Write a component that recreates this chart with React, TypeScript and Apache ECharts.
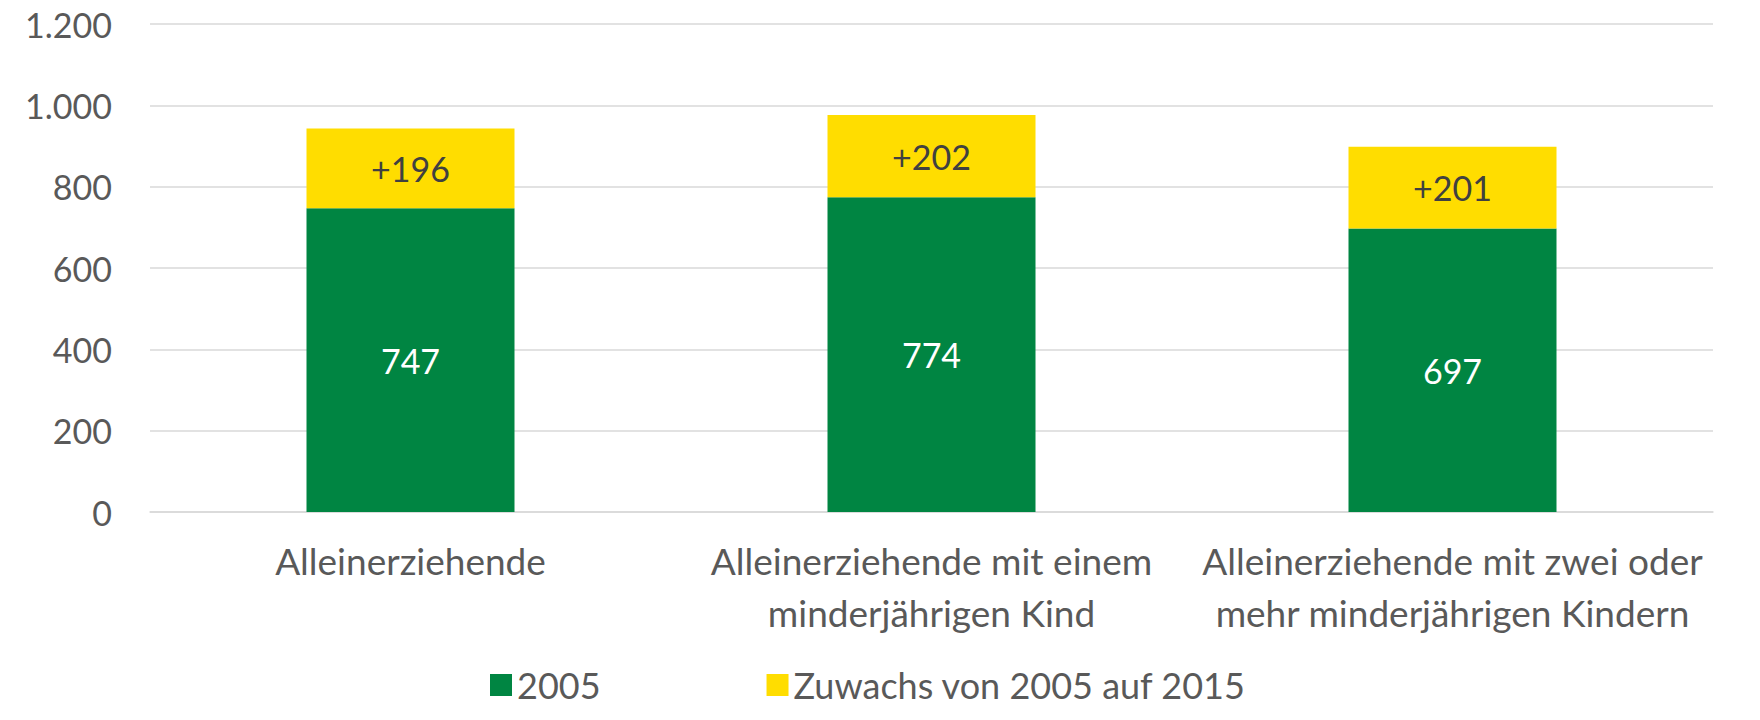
import React, { useEffect, useRef } from "react";
import * as echarts from "echarts";

const categories = [
  "Alleinerziehende",
  "Alleinerziehende mit einem\nminderjährigen Kind",
  "Alleinerziehende mit zwei oder\nmehr minderjährigen Kindern",
];
const values2005 = [747, 774, 697];
const zuwachs = [196, 202, 201];
const seriesNames = ["2005", "Zuwachs von 2005 auf 2015"];
const yTicks = { min: 0, max: 1200, interval: 200 };

const FONT = "Lato, 'Open Sans', sans-serif";
const FS_TEXT = 37;
const FS_NUM = 34;
const GREEN = "#008542";
const YELLOW = "#FFDD00";
const GREY_TEXT = "#595959";

export default function App() {
  const ref = useRef<HTMLDivElement>(null);
  useEffect(() => {
    if (!ref.current) return;
    const chart = echarts.init(ref.current, undefined, { renderer: "svg" });
    chart.setOption({
      animation: false,
      backgroundColor: "#ffffff",
      textStyle: { fontFamily: FONT },
      grid: { left: 150, right: 47, top: 24, bottom: 208, containLabel: false },
      legend: {
        top: 660,
        left: 485,
        itemWidth: 22,
        itemHeight: 22,
        itemGap: 166,
        icon: "rect",
        textStyle: {
          fontFamily: FONT,
          fontSize: 36,
          lineHeight: 40,
          color: GREY_TEXT,
        },
        data: seriesNames,
      },
      xAxis: {
        type: "category",
        data: categories,
        axisLine: { show: true, lineStyle: { color: "#D9D9D9", width: 1.5 } },
        axisTick: { show: false },
        axisLabel: {
          fontFamily: FONT,
          fontSize: FS_TEXT,
          color: GREY_TEXT,
          lineHeight: 52,
          margin: 22,
          interval: 0,
        },
      },
      yAxis: {
        type: "value",
        min: yTicks.min,
        max: yTicks.max,
        interval: yTicks.interval,
        axisLine: { show: false },
        axisTick: { show: false },
        splitLine: { lineStyle: { color: "#D9D9D9", width: 1.5 } },
        axisLabel: {
          fontFamily: FONT,
          fontSize: FS_NUM,
          color: GREY_TEXT,
          margin: 38,
          formatter: (v: number) => v.toLocaleString("de-DE"),
        },
      },
      series: [
        {
          name: seriesNames[0],
          type: "bar",
          stack: "total",
          barWidth: 208,
          data: values2005,
          itemStyle: { color: GREEN },
          label: {
            show: true,
            position: "inside",
            color: "#ffffff",
            fontFamily: FONT,
            fontSize: FS_NUM,
          },
        },
        {
          name: seriesNames[1],
          type: "bar",
          stack: "total",
          barWidth: 208,
          data: zuwachs,
          itemStyle: { color: YELLOW },
          label: {
            show: true,
            position: "inside",
            color: "#404040",
            fontFamily: FONT,
            fontSize: FS_NUM,
            formatter: (p: any) => "+" + p.value,
          },
        },
      ],
    });
    return () => chart.dispose();
  }, []);
  return (
    <div
      ref={ref}
      style={{ position: "fixed", left: 0, top: 0, width: 1760, height: 720 }}
    />
  );
}
